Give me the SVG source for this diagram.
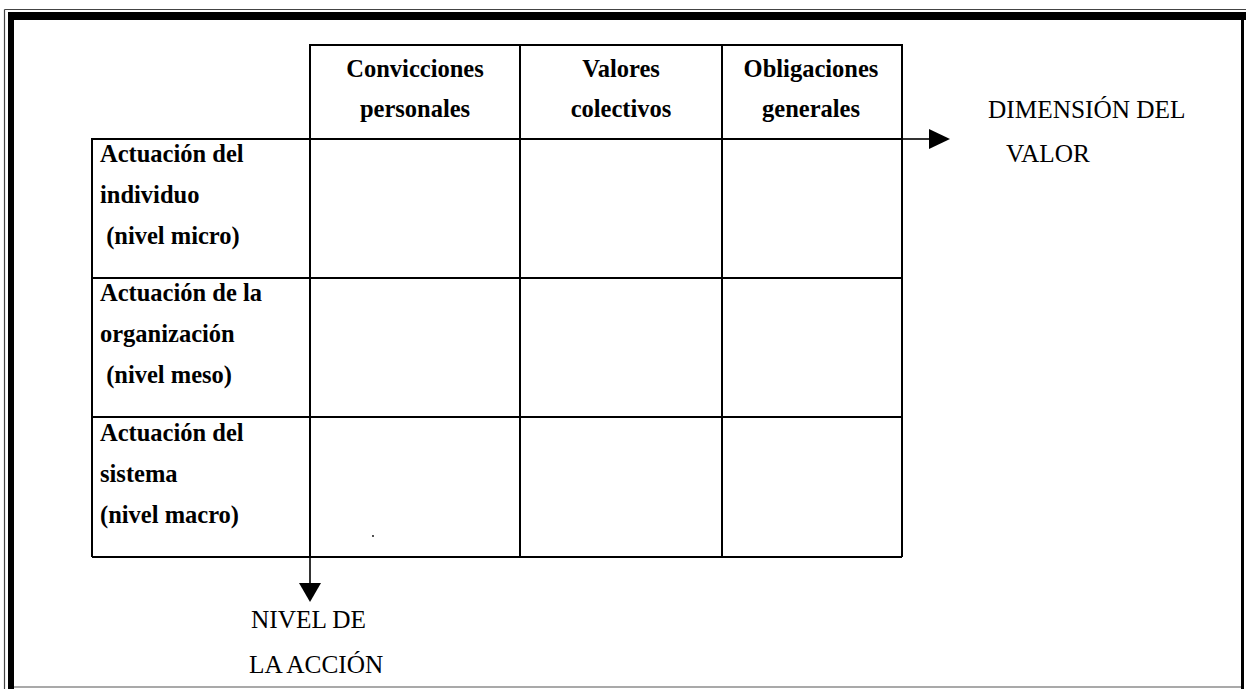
<svg xmlns="http://www.w3.org/2000/svg" width="1246" height="689" viewBox="0 0 1246 689">
  <style>
    text { font-family: "Liberation Serif", "Tinos", "Times New Roman", "DejaVu Serif", serif; fill: #000; }
    .bold { font-weight: bold; font-size: 24.5px; }
    .reg { font-weight: normal; font-size: 25.3px; }
    .grid { stroke: #000; stroke-width: 2; fill: none; }
    .conn { stroke: #000; stroke-width: 1.6; fill: none; }
    .head { fill: #000; stroke: none; }
  </style>
  <rect width="1246" height="689" fill="#fff"/>

  <!-- page border: thin outer rule, heavy inner rule -->
  <g id="page-border">
    <line x1="4.5" y1="9.5" x2="1246" y2="9.5" stroke="#444" stroke-width="1.2"/>
    <line x1="4.5" y1="9.5" x2="4.5" y2="689" stroke="#444" stroke-width="1.2"/>
    <rect x="8" y="12" width="1238" height="8" fill="#000"/>
    <rect x="8" y="12" width="6" height="677" fill="#000"/>
    <rect x="1241" y="20" width="3" height="669" fill="#000"/>
    <line x1="14" y1="687" x2="1241" y2="687" stroke="#555" stroke-width="1.2"/>
  </g>

  <!-- matrix grid -->
  <g id="grid" class="grid">
    <polyline points="310,557 310,45 902,45 902,557"/>
    <line x1="520" y1="45" x2="520" y2="557"/>
    <line x1="722" y1="45" x2="722" y2="557"/>
    <polyline points="92,557 92,139 902,139"/>
    <line x1="92" y1="278" x2="902" y2="278"/>
    <line x1="92" y1="417" x2="902" y2="417"/>
    <line x1="92" y1="557" x2="902" y2="557"/>
  </g>

  <!-- column headers -->
  <g id="col-convicciones">
    <text class="bold" x="415" y="77" text-anchor="middle">Convicciones</text>
    <text class="bold" x="415" y="117" text-anchor="middle">personales</text>
  </g>
  <g id="col-valores">
    <text class="bold" x="621" y="77" text-anchor="middle">Valores</text>
    <text class="bold" x="621" y="117" text-anchor="middle">colectivos</text>
  </g>
  <g id="col-obligaciones">
    <text class="bold" x="811" y="77" text-anchor="middle">Obligaciones</text>
    <text class="bold" x="811" y="117" text-anchor="middle">generales</text>
  </g>

  <!-- row headers -->
  <g id="row-micro">
    <text class="bold" x="100" y="162">Actuación del</text>
    <text class="bold" x="100" y="203">individuo</text>
    <text class="bold" x="100" y="244" xml:space="preserve"> (nivel micro)</text>
  </g>
  <g id="row-meso">
    <text class="bold" x="100" y="301">Actuación de la</text>
    <text class="bold" x="100" y="342">organización</text>
    <text class="bold" x="100" y="383" xml:space="preserve"> (nivel meso)</text>
  </g>
  <g id="row-macro">
    <text class="bold" x="100" y="441">Actuación del</text>
    <text class="bold" x="100" y="482">sistema</text>
    <text class="bold" x="100" y="523">(nivel macro)</text>
  </g>
  <circle cx="373" cy="536" r="0.9" fill="#000"/>

  <!-- axis labels -->
  <g id="axis-valor">
    <text class="reg" x="988" y="118">DIMENSIÓN DEL</text>
    <text class="reg" x="1006" y="162">VALOR</text>
  </g>
  <g id="axis-accion">
    <text class="reg" x="251" y="628">NIVEL DE</text>
    <text class="reg" x="249" y="673">LA ACCIÓN</text>
  </g>

  <!-- axis arrows -->
  <g id="connectors">
    <line class="conn" x1="902" y1="139" x2="930" y2="139"/>
    <polygon class="head" points="929,129 950,139 929,149"/>
    <line class="conn" x1="310" y1="557" x2="310" y2="584"/>
    <polygon class="head" points="299,583 321,583 310,602"/>
  </g>
</svg>
